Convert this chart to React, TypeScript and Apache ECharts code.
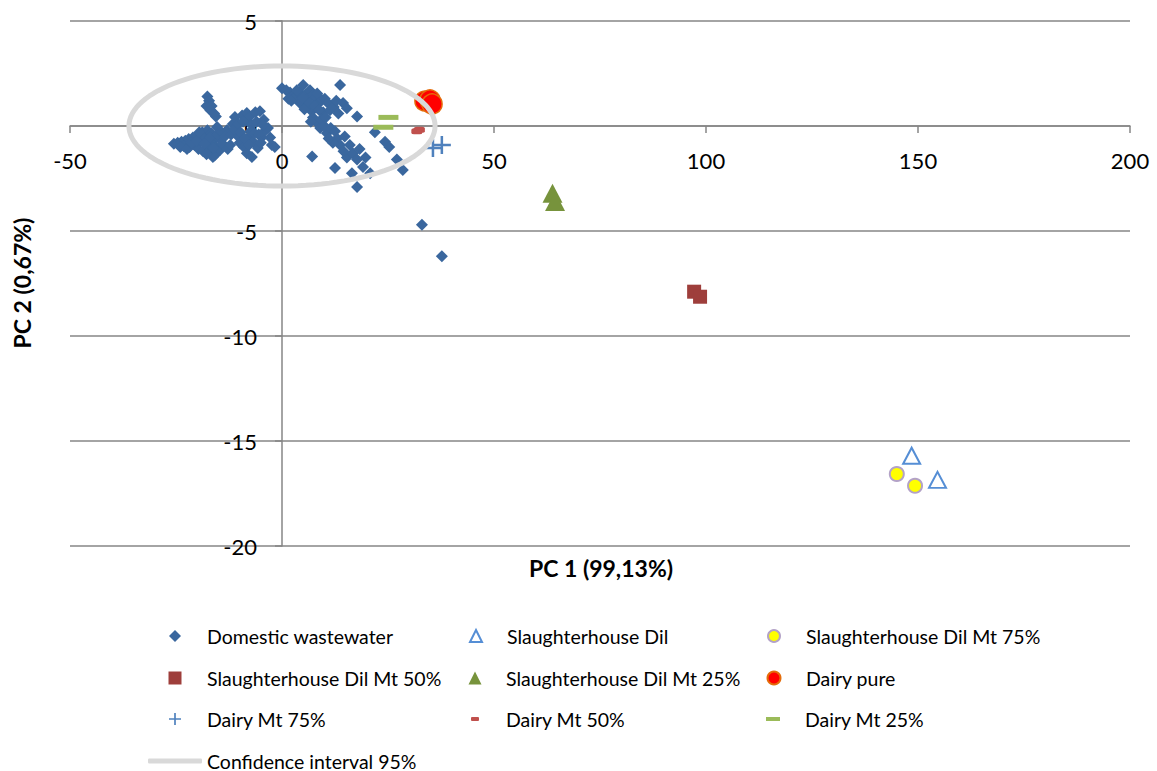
import React, { useEffect, useRef } from "react";
import * as echarts from "echarts";

const xTicks = { min: -50, max: 200, interval: 50 };
const yTicks = { min: -20, max: 5, interval: 5 };

const domestic: [number, number][] = [
  [-25.5, -0.85], [-24.6, -0.8], [-23.7, -0.75], [-22.8, -0.7], [-23.2, -0.95], [-22.0, -0.62],
  [-21.8, -1.0], [-21.0, -0.55], [-20.6, -0.9], [-20.0, -0.45], [-19.7, -1.1], [-19.2, -0.7],
  [-18.8, -0.3], [-18.6, -1.2], [-18.0, -0.55], [-17.6, -0.2], [-17.3, -0.95], [-17.0, -1.3],
  [-16.6, -0.35], [-16.3, -0.7], [-16.3, -1.48], [-15.9, -1.4], [-15.5, -1.0], [-15.3, -0.05], [-14.8, -0.6],
  [-14.6, -1.14], [-24.0, -1.0], [-22.4, -1.1], [-21.4, -0.8], [-20.2, -0.7], [-19.5, -0.3], [-18.3, -0.85],
  [-17.8, -1.35], [-16.9, -0.55], [-16.1, -1.05], [-15.2, -0.4], [-14.3, -0.3], [-14.0, -0.85], [-13.0, -0.2],
  [-17.6, 1.4], [-17.2, 1.2], [-17.8, 0.95], [-16.6, 0.95], [-16.9, 0.75], [-16.0, 0.6], [-15.6, 0.45],
  [-13.5, -0.5], [-12.8, -1.1], [-12.2, -0.9], [-11.6, 0.1], [-11.1, 0.43], [-10.6, -0.45], [-10.0, -0.8],
  [-9.4, 0.5], [-9.0, -1.0], [-8.6, 0.25], [-8.3, 0.62], [-8.3, -1.3], [-8.0, -0.55], [-7.6, 0.45],
  [-7.1, 0.05], [-7.1, -1.48], [-6.8, -0.75], [-6.3, 0.65], [-5.7, -1.05], [-5.2, 0.7], [-4.8, -0.55],
  [-4.3, 0.3], [-3.9, -0.2], [-3.3, -0.1], [-2.8, -0.55], [-2.4, -0.9], [-1.7, -1.0],
  [-12.0, -0.4], [-11.3, -0.15], [-10.3, 0.1], [-9.8, -0.3], [-9.2, 0.2], [-8.8, -0.6], [-7.8, -0.9],
  [-7.4, -0.25], [-6.5, -0.35], [-6.0, 0.2], [-5.5, -0.4], [-5.0, -0.8], [-4.5, 0.05],
  [0.0, 1.8], [1.0, 1.7], [1.9, 1.6], [2.6, 1.45], [3.1, 1.35], [4.2, 1.1], [4.2, 1.6], [5.0, 1.95],
  [5.6, 1.5], [5.9, 1.25], [6.1, 0.95], [6.6, 1.7], [7.3, 1.5], [7.0, 0.7], [7.8, 1.35], [7.3, 0.4],
  [8.3, 1.55], [8.5, 1.05], [8.0, 0.2], [9.4, 1.25], [9.0, -0.1], [9.7, 0.65], [10.1, 1.3], [10.8, 1.1],
  [10.6, -0.35], [11.3, 0.75], [11.5, -0.1], [12.5, -0.25], [13.0, -0.6], [13.7, 1.95], [13.7, -0.9],
  [14.4, 1.1], [15.3, 0.85], [12.0, -0.8], [7.1, -1.45], [12.5, -2.0], [15.3, -1.5], [16.7, -1.3],
  [17.7, -1.6], [17.7, 0.45], [19.1, -1.95], [20.8, -2.25], [16.5, -2.25], [17.7, -2.9], [14.5, -1.2],
  [18.3, -1.1], [21.9, -0.3], [24.3, -0.75], [25.3, -1.0], [27.1, -1.6], [28.5, -2.1],
  [1.5, 1.3], [2.2, 1.2], [3.5, 1.7], [4.8, 1.35], [5.3, 0.8], [6.4, 1.1], [6.8, 0.2], [7.6, 0.95],
  [8.8, 0.75], [9.2, 0.3], [10.0, 0.0], [10.3, 0.4], [11.0, -0.6], [12.2, 0.9], [12.8, 1.2], [13.3, 0.6],
  [14.8, -0.5], [16.0, -0.9], [19.7, -1.5],
  [33.0, -4.7], [37.7, -6.2],
];
const slaughterDil: [number, number][] = [[148.5, -15.7], [154.6, -16.85]];
const slaughterMt75: [number, number][] = [[145.0, -16.57], [149.3, -17.13]];
const slaughterMt50: [number, number][] = [[97.2, -7.89], [98.6, -8.13]];
const slaughterMt25: [number, number][] = [[63.8, -3.2], [64.4, -3.6]];
const dairyPure: [number, number][] = [[33.7, 1.19], [34.9, 1.24], [35.4, 1.05]];
const dairyMt75: [number, number][] = [[35.6, -1.05], [37.7, -0.9]];
const dairyMt50: [number, number][] = [[31.8, -0.25], [32.4, -0.18]];
const dairyMt25: [number, number][] = [[25.1, 0.41], [23.9, -0.06]];

// 95% confidence ellipse parameters (centre and semi-axes, data units)
const ellipseCenter: [number, number] = [0, 0];
const ellipseSemiAxes: [number, number] = [36.1, 2.86];

const names = [
  "Domestic wastewater",
  "Slaughterhouse Dil",
  "Slaughterhouse Dil Mt 75%",
  "Slaughterhouse Dil Mt 50%",
  "Slaughterhouse Dil Mt 25%",
  "Dairy pure",
  "Dairy Mt 75%",
  "Dairy Mt 50%",
  "Dairy Mt 25%",
  "Confidence interval 95%",
];

const FONT = "Lato, 'Noto Sans', sans-serif";
const PLUS = "path://M0,4.3H10V5.7H0Z M4.3,0H5.7V10H4.3Z";

export default function App() {
  const ref = useRef<HTMLDivElement>(null);
  useEffect(() => {
    if (!ref.current) return;
    const chart = echarts.init(ref.current, undefined, { renderer: "svg" });

    const ellipse: [number, number][] = [];
    const steps = 120;
    for (let i = 0; i <= steps; i++) {
      const t = (i / steps) * Math.PI * 2;
      ellipse.push([
        ellipseCenter[0] + ellipseSemiAxes[0] * Math.cos(t),
        ellipseCenter[1] + ellipseSemiAxes[1] * Math.sin(t),
      ]);
    }

    const colX = [175, 475, 773];
    const textX = [207, 506, 805];
    const rowY = [636, 678, 719, 761];
    const iconSizes: [number, number][] = [
      [12, 12], [12, 12], [12, 12],
      [13, 13], [13, 13], [13, 13],
      [12, 12], [8, 4], [14, 4],
      [54, 5],
    ];
    const legends = names.map((n, i) => {
      const col = i === 9 ? 0 : i % 3;
      const row = i === 9 ? 3 : Math.floor(i / 3);
      const [w, h] = iconSizes[i];
      const cx = colX[col];
      const pad = textX[col] - (cx + w / 2) - 5;
      return {
        data: [i === 9 ? { name: n, icon: "roundRect" } : n],
        left: cx - w / 2,
        top: rowY[row] - 11,
        padding: 0,
        itemWidth: w,
        itemHeight: h,
        selectedMode: false,
        textStyle: {
          fontFamily: FONT,
          fontSize: 19.5,
          lineHeight: 22,
          color: "#000",
          padding: [0, 0, 0, Math.max(0, pad)],
        },
      };
    });

    const gridLeft = 70;
    const gridBottom = 225;
    const H = 771;

    const axisLineStyle = { color: "#868686", width: 1.5 };
    const sc = (color: string, extra: any = {}) => ({ color, opacity: 1, ...extra });
    const baseOption: any = {
      animation: false,
      backgroundColor: "#fff",
      grid: { left: gridLeft, right: 27, top: 21, bottom: gridBottom, containLabel: false },
      legend: legends,
      xAxis: {
        type: "value",
        position: "bottom",
        min: xTicks.min,
        max: xTicks.max,
        interval: xTicks.interval,
        axisLine: { show: true, onZero: false, lineStyle: axisLineStyle },
        axisTick: { show: true, length: 7, lineStyle: axisLineStyle },
        axisLabel: { margin: 23, fontSize: 22, fontFamily: FONT, color: "#000" },
        splitLine: { show: false },
      },
      yAxis: {
        type: "value",
        position: "left",
        min: yTicks.min,
        max: yTicks.max,
        interval: yTicks.interval,
        axisLine: { show: true, onZero: false, lineStyle: axisLineStyle },
        axisTick: { show: true, length: 7, lineStyle: axisLineStyle },
        axisLabel: { margin: 25, fontSize: 22, fontFamily: FONT, color: "#000" },
        splitLine: { show: true, lineStyle: axisLineStyle },
      },
      graphic: [
        {
          type: "text",
          x: 601,
          y: 568,
          style: {
            text: "PC 1 (99,13%)",
            font: `bold 23px ${FONT}`,
            fill: "#000",
            textAlign: "center",
            textVerticalAlign: "middle",
          },
        },
        {
          type: "text",
          x: 22,
          y: 283,
          rotation: Math.PI / 2,
          style: {
            text: "PC 2 (0,67%)",
            font: `bold 23px ${FONT}`,
            fill: "#000",
            textAlign: "center",
            textVerticalAlign: "middle",
          },
        },
      ],
      series: [
        {
          name: names[0], type: "scatter", data: domestic, symbol: "diamond", symbolSize: 12,
          itemStyle: sc("#3A679E"),
        },
        {
          name: names[1], type: "scatter", data: slaughterDil, symbol: "triangle", symbolSize: [17, 16],
          itemStyle: sc("#FFFFFF", { borderColor: "#558ED5", borderWidth: 2 }),
        },
        {
          name: names[2], type: "scatter", data: slaughterMt75, symbol: "circle", symbolSize: 14,
          itemStyle: sc("#FFFF00", { borderColor: "#B3A2C7", borderWidth: 2 }),
        },
        {
          name: names[3], type: "scatter", data: slaughterMt50, symbol: "rect", symbolSize: 14,
          itemStyle: sc("#9E3E3B"),
        },
        {
          name: names[4], type: "scatter", data: slaughterMt25, symbol: "triangle", symbolSize: [20, 19],
          itemStyle: sc("#77933C"),
        },
        {
          name: names[5], type: "scatter", data: dairyPure, symbol: "circle", symbolSize: 20,
          itemStyle: sc("#FF0000", { borderColor: "#E46C0A", borderWidth: 1.5 }),
        },
        {
          name: names[6], type: "scatter", data: dairyMt75, symbol: PLUS, symbolSize: 18,
          itemStyle: sc("#4F81BD"),
        },
        {
          name: names[7], type: "scatter", data: dairyMt50, symbol: "roundRect", symbolSize: [11, 6],
          itemStyle: sc("#C0504D"),
        },
        {
          name: names[8], type: "scatter", data: dairyMt25, symbol: "rect", symbolSize: [20, 5],
          itemStyle: sc("#9BBB59"),
        },
        {
          name: names[9], type: "line", data: ellipse, symbol: "none", showSymbol: false,
          smooth: false, silent: true,
          lineStyle: { color: "#D9D9D9", width: 5, cap: "round" },
          itemStyle: { color: "#D9D9D9" },
          z: 5,
        },
      ],
    };
    chart.setOption(baseOption);

    // place the axes through the origin, using the library's own scales
    const origin = chart.convertToPixel({ gridIndex: 0 }, [0, 0]) as number[];
    if (origin && isFinite(origin[0]) && isFinite(origin[1])) {
      const gridBottomPx = H - gridBottom;
      chart.setOption({
        xAxis: { offset: -(gridBottomPx - origin[1]) },
        yAxis: { offset: -(origin[0] - gridLeft) },
      });
    }
    return () => chart.dispose();
  }, []);
  return (
    <div
      ref={ref}
      style={{ position: "absolute", left: 0, top: 0, width: 1157, height: 771 }}
    />
  );
}
